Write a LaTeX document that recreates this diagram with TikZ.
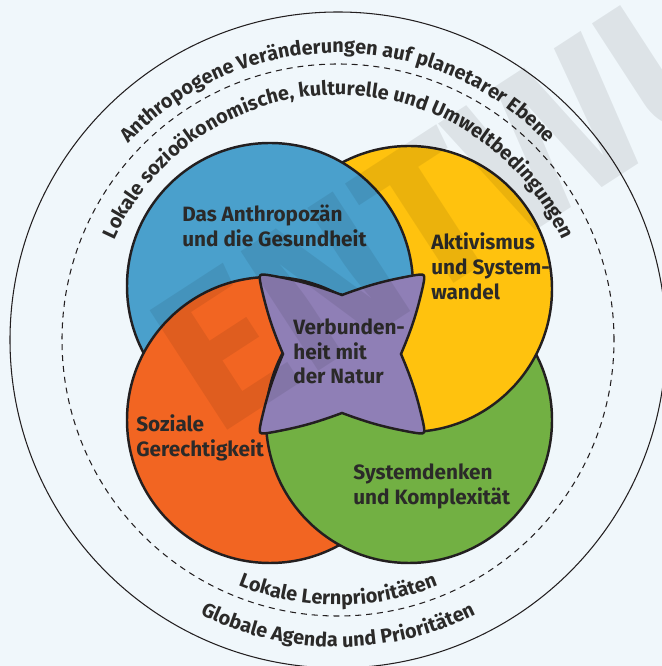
\documentclass[tikz,border=0pt]{standalone}
\usepackage{fontspec}
\setmainfont{Fira Sans}
\usepackage{tikz}
\usetikzlibrary{decorations.text,calc}

\definecolor{bg}{HTML}{F0F7FB}
\definecolor{txt}{HTML}{2B2A29}
\definecolor{cblue}{HTML}{4AA0CC}
\definecolor{cyellow}{HTML}{FFC20E}
\definecolor{corange}{HTML}{F26522}
\definecolor{cgreen}{HTML}{72B043}
\definecolor{cpurple}{HTML}{8F7FB6}
\definecolor{outline}{HTML}{231F20}

\newcommand{\arcfont}{\fontsize{11.3}{13}\selectfont\bfseries\color{txt}}

\begin{document}
\begin{tikzpicture}[x=0.02cm, y=0.02cm]

        \tikzstyle{field} = [draw=outline, line width=1.4pt]
        \tikzstyle{label} = [anchor=north west, inner sep=0pt, align=left, text=txt, font=\fontsize{11.8}{14.2}\selectfont\bfseries]
        \tikzstyle{ring} = [draw=outline, line width=0.6pt]
        \tikzstyle{arctext} = [decorate, decoration={text along path, text align=center}]

        \useasboundingbox (0,0) rectangle (662,666);
        \clip (0,0) rectangle (662,666);
        \fill[bg] (0,0) rectangle (662,666);

        \coordinate (c) at (338,326);
        \coordinate (blue) at (270,380);
        \coordinate (yellow) at (409,377);
        \coordinate (orange) at (270,246);
        \coordinate (green) at (409,246);

        % rings
        \draw[ring] (c) circle[radius=328];
        \draw[ring, dash pattern=on 3.4pt off 2.8pt] (c) circle[radius=276];

        % four fields, each one lies over the next
        \draw[field, fill=cgreen] (green) circle[radius=143];
        \draw[field, fill=cyellow] (yellow) circle[radius=143];
        \draw[field, fill=cblue] (blue) circle[radius=143];
        \draw[field, fill=corange] (orange) circle[radius=143];
        \begin{scope}
            \clip (orange) circle[radius=145.5];
            \draw[field, fill=cgreen] (green) circle[radius=143];
        \end{scope}

        % centre
        \begin{scope}[shift={(342,312)}]
            \draw[field, fill=cpurple] (-71,78.5) to[bend left=5] (0,59) to[bend left=5] (71,78.5)
                .. controls (83.5,80.5) .. (81,68) to[bend left=5] (59,0) to[bend left=5] (81,-68)
                .. controls (83.5,-80.5) .. (71,-78.5) to[bend left=5] (0,-59) to[bend left=5] (-71,-78.5)
                .. controls (-83.5,-80.5) .. (-81,-68) to[bend left=5] (-59,0) to[bend left=5] (-81,68)
                .. controls (-83.5,80.5) .. (-71,78.5) -- cycle;
        \end{scope}

        \node[label] (anthro) at (182,461) {Das Anthropozän\\und die Gesundheit};
        \node[label] (aktiv) at (431,434) {Aktivismus\\und System-\\wandel};
        \node[label] (natur) at (293,348) {Verbunden-\\heit mit\\der Natur};
        \node[label] (sozial) at (136,252) {Soziale\\Gerechtigkeit};
        \node[label] (system) at (353,203) {Systemdenken\\und Komplexität};

        % texts along the rings
        \path[arctext, decoration={text={|\arcfont|Anthropogene Veränderungen auf planetarer Ebene}}]
            ($(c)+(180:287)$) arc[start angle=180, end angle=0, radius=287];
        \path[arctext, decoration={text={|\arcfont|Lokale sozioökonomische, kulturelle und Umweltbedingungen}}]
            ($(c)+(180:245)$) arc[start angle=180, end angle=0, radius=245];
        \path[arctext, decoration={text={|\arcfont|Lokale Lernprioritäten}}]
            ($(c)+(180:265)$) arc[start angle=180, end angle=360, radius=265];
        \path[arctext, decoration={text={|\arcfont|Globale Agenda und Prioritäten}}]
            ($(c)+(180:307)$) arc[start angle=180, end angle=360, radius=307];

        \node[rotate=33, text=black, opacity=0.08, font=\fontsize{117}{117}\selectfont\bfseries] (draft) at (552,529) {ENTWURF};

\end{tikzpicture}
\end{document}
